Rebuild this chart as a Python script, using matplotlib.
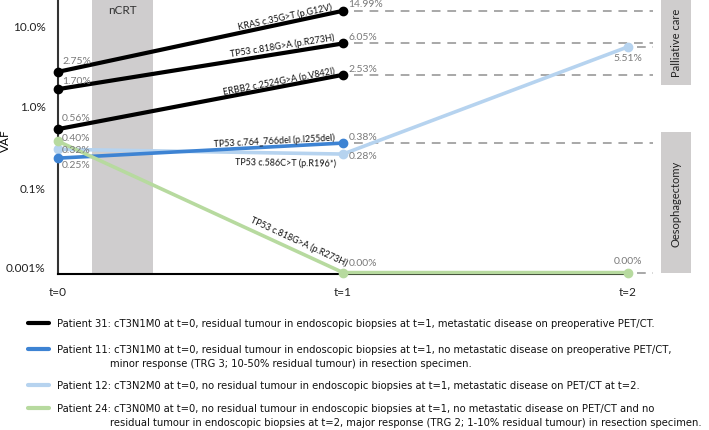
import numpy as np
import matplotlib
matplotlib.use("Agg")
import matplotlib.pyplot as plt
from matplotlib import font_manager as fm
from matplotlib.lines import Line2D
from matplotlib.patches import Rectangle
from matplotlib.transforms import ScaledTranslation

# data (VAF in %)
timepoints = ["t=0", "t=1", "t=2"]
mutations = ["KRAS c.35G>T (p.G12V)", "TP53 c.818G>A (p.R273H)",
             "ERBB2 c.2524G>A (p.V842I)", "TP53 c.764_766del (p.I255del)",
             "TP53 c.586C>T (p.R196*)", "TP53 c.818G>A (p.R273H)"]
mut_patient = [31, 31, 31, 11, 12, 24]
vaf_values = [[2.75, 14.99], [1.70, 6.05], [0.56, 2.53],
              [0.25, 0.38], [0.32, 0.28, 5.51], [0.40, 0.00, 0.00]]

legend_patients = [31, 11, 12, 24]
legend_text = [
    ["Patient 31: cT3N1M0 at t=0, residual tumour in endoscopic biopsies at t=1, metastatic disease on preoperative PET/CT."],
    ["Patient 11: cT3N1M0 at t=0, residual tumour in endoscopic biopsies at t=1, no metastatic disease on preoperative PET/CT,",
     "minor response (TRG 3; 10-50% residual tumour) in resection specimen."],
    ["Patient 12: cT3N2M0 at t=0, no residual tumour in endoscopic biopsies at t=1, metastatic disease on PET/CT at t=2."],
    ["Patient 24: cT3N0M0 at t=0, no residual tumour in endoscopic biopsies at t=1, no metastatic disease on PET/CT and no",
     "residual tumour in endoscopic biopsies at t=2, major response (TRG 2; 1-10% residual tumour) in resection specimen."],
]
ytick_vals = [10, 1, 0.1, 0.01]
ytick_labels = ["10.0%", "1.0%", "0.1%", "0.001%"]

colors = {31: "#000000", 11: "#3d83d3", 12: "#b6d3ef", 24: "#b7da9f"}
lwidths = {31: 3.0, 11: 2.6, 12: 2.6, 24: 2.6}

# label placement (style, not data)
lab_frac = [0.80, 0.79, 0.78, 0.76, 0.80, 0.83]
lab_off = [7, 8, 6, 7, -9, 10]
t0_off = [8, 6.5, 8, -4.5, 0, 3]
end_off = [[0, 5], [0, 5], [0, 4.5], [0, 5], [0, -1, -8], [0, 7, 8.5]]
tick_shift = [0, 3, 4, 8]  # px, labels sit slightly above their ticks

YMIN, YMAX = 0.0104, 20.8
FONT = ["Lato", "DejaVu Sans"]
GREY_TXT = "#7a7a7a"

# find a narrow sans font for the legend if there is one
narrow = None
for f in fm.fontManager.ttflist:
    nm = f.name
    if "Mono" in nm or "Serif" in nm:
        continue
    if (f.stretch in ("condensed", "semi-condensed", "extra-condensed")
            or "Narrow" in nm or "Condensed" in nm) and f.style == "normal" \
            and f.weight in (400, "normal", "regular", "book"):
        narrow = f.fname
        break

fig = plt.figure(figsize=(7.09, 4.31), dpi=100)
ax = fig.add_axes([58 / 709, 1 - 275 / 431, 570 / 709, 275 / 431])
ax.set_yscale("log")
ax.set_ylim(YMIN, YMAX)
ax.set_xlim(0, 2)
for s in ["top", "right"]:
    ax.spines[s].set_visible(False)
ax.spines["left"].set_color("#333333")
ax.spines["left"].set_linewidth(1.5)
ax.spines["bottom"].set_linewidth(1.5)
ax.set_yticks(ytick_vals)
ax.set_yticklabels(ytick_labels, family=FONT, fontsize=8.5, color="#222222")
ax.minorticks_off()
ax.set_xticks(range(len(timepoints)))
ax.set_xticklabels(timepoints, family=FONT, fontsize=8.5, color="#222222")
ax.tick_params(length=0, pad=9)
ax.set_ylabel("VAF", family=FONT, fontsize=8.5)
ax.yaxis.set_label_coords(-0.082, 0.49)
for lab, sh in zip(ax.get_yticklabels(), tick_shift):
    lab.set_transform(lab.get_transform() + ScaledTranslation(0, sh / 100, fig.dpi_scale_trans))

# nCRT band
ax.axvspan(0.119, 0.333, color="#cfcdce", zorder=0, lw=0)
ax.text(0.226, 0.96, "nCRT", transform=ax.get_xaxis_transform(), ha="center", va="center",
        family=FONT, fontsize=8.5, color="#333333")

def ypos(v):
    return v if v > 0 else YMIN

order = [4, 3, 5, 0, 1, 2]
for i in order:
    vals = vaf_values[i]
    p = mut_patient[i]
    xs = np.arange(len(vals))
    ys = [ypos(v) for v in vals]
    ax.plot(xs, ys, color=colors[p], lw=lwidths[p], marker="o", ms=6,
            solid_capstyle="round", zorder=3, clip_on=False)
    # dashed guide from the last point
    last = len(vals) - 1
    x0 = 1.04 if last == 1 else 2.03
    ax.plot([x0, 2.088], [ys[-1], ys[-1]], color="#a8a8a8", lw=1.4, ls=(0, (4.5, 3.5)),
            zorder=1, clip_on=False)

# value labels
for i, vals in enumerate(vaf_values):
    for k, v in enumerate(vals):
        if k == 0:
            xy, dx, ha, dy = (0, ypos(v)), 3, "left", t0_off[i]
        elif k == 1:
            xy, dx, ha, dy = (1, ypos(v)), 4, "left", end_off[i][k]
        else:
            xy, dx, ha, dy = (2, ypos(v)), 0, "center", end_off[i][k]
        ax.annotate(f"{v:.2f}%", xy, xytext=(dx, dy), textcoords="offset points",
                    ha=ha, va="center", family=FONT, fontsize=7.5, color=GREY_TXT,
                    annotation_clip=False, zorder=4)

# mutation labels along first segment
for i, name in enumerate(mutations):
    vals = vaf_values[i]
    p0 = ax.transData.transform((0, ypos(vals[0])))
    p1 = ax.transData.transform((1, ypos(vals[1])))
    ang = np.arctan2(p1[1] - p0[1], p1[0] - p0[0])
    pt = p0 + (p1 - p0) * lab_frac[i]
    pt = pt + lab_off[i] * np.array([-np.sin(ang), np.cos(ang)])
    xd, yd = ax.transData.inverted().transform(pt)
    ax.text(xd, yd, name, rotation=np.degrees(ang), ha="center", va="center",
            rotation_mode="anchor", family=FONT, fontsize=6.5, color="#111111", zorder=5)

# treatment boxes at the right
for y0, y1, txt in [(YMAX, 1.9, "Palliative care"), (0.513, YMIN, "Oesophagectomy")]:
    ax.add_patch(Rectangle((2.116, y1), 0.105, y0 - y1, color="#cfcdcd", lw=0,
                           clip_on=False, zorder=1))
    ax.text(2.1685, np.sqrt(y0 * y1), txt, rotation=90, ha="center", va="center",
            family=FONT, fontsize=8, color="#222222")

# legend below the axes
if narrow:
    leg_font = dict(fontproperties=fm.FontProperties(fname=narrow, size=8))
else:
    leg_font = dict(family=FONT, fontsize=8)
probe = fig.text(57 / 709, 0.5, legend_text[0][0], **leg_font)
fig.canvas.draw()
w = probe.get_window_extent().width
probe.remove()
leg_size = min(10, 8 * 600 / w)

rows_y = [324, 350, 386, 409]
for p, lines, yy in zip(legend_patients, legend_text, rows_y):
    fy = 1 - yy / 431
    fig.add_artist(Line2D([28 / 709, 49 / 709], [fy, fy], color=colors[p], lw=3.0,
                          solid_capstyle="round"))
    for j, line in enumerate(lines):
        fx = 57 / 709 if j == 0 else 110 / 709
        t = fig.text(fx, 1 - (yy + 14.5 * j) / 431, line, ha="left", va="center",
                     color="#111111", **leg_font)
        t.set_fontsize(leg_size)

fig.savefig("out.png", dpi=100)
